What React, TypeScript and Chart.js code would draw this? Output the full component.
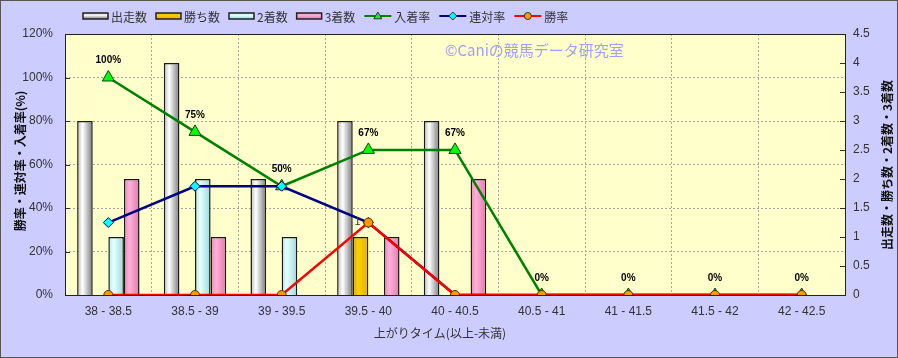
import React, { useEffect, useRef } from 'react';
import { Chart, registerables } from 'chart.js';

Chart.register(...registerables);

const categories = ['38 - 38.5', '38.5 - 39', '39 - 39.5', '39.5 - 40', '40 - 40.5', '40.5 - 41', '41 - 41.5', '41.5 - 42', '42 - 42.5'];
const starts = [3, 4, 2, 3, 3, 0, 0, 0, 0];
const wins = [0, 0, 0, 1, 0, 0, 0, 0, 0];
const seconds = [1, 2, 1, 0, 0, 0, 0, 0, 0];
const thirds = [2, 1, 0, 1, 2, 0, 0, 0, 0];
const placeRate = [100, 75, 50, 66.7, 66.7, 0, 0, 0, 0];
const quinellaRate = [33.3, 50, 50, 33.3, 0, 0, 0, 0, 0];
const winRate = [0, 0, 0, 33.3, 0, 0, 0, 0, 0];

const W = 898;
const H = 358;
const CAT_PCT = 0.72;
const FONT = '"Liberation Sans", "Noto Sans CJK JP", sans-serif';
const JFONT = '"Noto Sans CJK JP", "Liberation Sans", sans-serif';

type Stops = [number, string][];
const STARTS_FILL: Stops = [[0, '#B8B8B8'], [0.35, '#FFFFFF'], [1, '#7A7A7A']];
const WINS_FILL: Stops = [[0, '#D9A600'], [0.35, '#FFD000'], [1, '#E0B000']];
const SECONDS_FILL: Stops = [[0, '#B0EAEA'], [0.35, '#E6FFFF'], [1, '#9AD8D8']];
const THIRDS_FILL: Stops = [[0, '#E486B8'], [0.35, '#FFB0D8'], [1, '#E07AAE']];

function barFill(stops: Stops, groupIdx: number) {
  return (ctx: any) => {
    const chart = ctx.chart;
    const xs = chart.scales && chart.scales.x;
    if (!xs || ctx.type !== 'data' || !xs.width) return stops[1][1];
    const center = xs.getPixelForValue(ctx.dataIndex);
    const catW = xs.width / categories.length;
    const bw = (catW * CAT_PCT) / 4;
    const left = center - 2 * bw + groupIdx * bw;
    const g = chart.ctx.createLinearGradient(left, 0, left + bw, 0);
    stops.forEach(([o, c]) => g.addColorStop(o, c));
    return g;
  };
}

const decorPlugin = {
  id: 'decor',
  beforeDraw(chart: any) {
    const { ctx, chartArea: a } = chart;
    ctx.save();
    ctx.fillStyle = '#CCCCFF';
    ctx.fillRect(0, 0, W, H);
    ctx.fillStyle = '#FFFFCC';
    ctx.fillRect(a.left, a.top, a.right - a.left, a.bottom - a.top);
    ctx.fillStyle = '#A0A0F4';
    ctx.font = '15px ' + JFONT;
    ctx.textAlign = 'left';
    ctx.textBaseline = 'middle';
    ctx.fillText('©Caniの競馬データ研究室', 445, 50);
    ctx.restore();
  },
  afterDatasetsDraw(chart: any) {
    const { ctx } = chart;
    ctx.save();
    const pm = chart.getDatasetMeta(4);
    ctx.fillStyle = '#000';
    ctx.font = 'bold 10px ' + FONT;
    ctx.textAlign = 'center';
    ctx.textBaseline = 'middle';
    pm.data.forEach((el: any, i: number) => {
      ctx.fillText(Math.round(placeRate[i]) + '%', el.x, el.y - 17);
    });
    const wm = chart.getDatasetMeta(1);
    ctx.font = '11px ' + FONT;
    ctx.fillStyle = '#333';
    wm.data.forEach((el: any, i: number) => {
      if (wins[i] > 0) ctx.fillText(String(wins[i]), el.x - 3, el.y - 15);
    });
    ctx.restore();
  },
  afterDraw(chart: any) {
    const { ctx, chartArea: a } = chart;
    ctx.save();
    ctx.strokeStyle = '#333';
    ctx.lineWidth = 1;
    const ys = chart.scales.y;
    ys.ticks.forEach((t: any) => {
      const py = Math.round(ys.getPixelForValue(t.value)) + 0.5;
      ctx.beginPath();
      ctx.moveTo(a.left, py);
      ctx.lineTo(a.left + 5, py);
      ctx.stroke();
    });
    const y1 = chart.scales.y1;
    y1.ticks.forEach((t: any) => {
      const py = Math.round(y1.getPixelForValue(t.value)) + 0.5;
      ctx.beginPath();
      ctx.moveTo(a.right - 5, py);
      ctx.lineTo(a.right, py);
      ctx.stroke();
    });
    ctx.strokeStyle = '#222';
    ctx.lineWidth = 1;
    ctx.strokeRect(Math.round(a.left) + 0.5, Math.round(a.top) + 0.5, Math.round(a.right - a.left), Math.round(a.bottom - a.top));
    ctx.strokeStyle = '#555';
    ctx.lineWidth = 2;
    ctx.strokeRect(0, 0, W, H);

    ctx.fillStyle = '#111';
    ctx.font = 'bold 12px ' + JFONT;
    ctx.textAlign = 'center';
    ctx.textBaseline = 'middle';
    ctx.save();
    ctx.translate(20, 161);
    ctx.rotate(-Math.PI / 2);
    ctx.fillText('勝率・連対率・入着率(%)', 0, 0);
    ctx.restore();
    ctx.save();
    ctx.translate(887, 165);
    ctx.rotate(-Math.PI / 2);
    ctx.fillText('出走数・勝ち数・2着数・3着数', 0, 0);
    ctx.restore();
    ctx.fillStyle = '#333';
    ctx.font = '12px ' + JFONT;
    ctx.fillText('上がりタイム(以上-未満)', 440, 333);

    const items: any[] = [
      { label: '出走数', type: 'bar', stops: STARTS_FILL },
      { label: '勝ち数', type: 'bar', stops: WINS_FILL },
      { label: '2着数', type: 'bar', stops: SECONDS_FILL },
      { label: '3着数', type: 'bar', stops: THIRDS_FILL },
      { label: '入着率', type: 'line', color: '#008000', style: 'triangle', fill: '#00FF00', r: 4 },
      { label: '連対率', type: 'line', color: '#000080', style: 'rectRot', fill: '#00FFFF', r: 4 },
      { label: '勝率', type: 'line', color: '#FF0000', style: 'circle', fill: '#FF9900', r: 3.5 },
    ];
    let x = 83;
    const ly = 16;
    ctx.font = '12px ' + JFONT;
    ctx.textAlign = 'left';
    items.forEach((it) => {
      if (it.type === 'bar') {
        const g = ctx.createLinearGradient(0, ly - 3, 0, ly + 3);
        it.stops.forEach(([o, c]: [number, string]) => g.addColorStop(o, c));
        ctx.fillStyle = g;
        ctx.fillRect(x, ly - 3, 25, 6);
        ctx.strokeStyle = '#222';
        ctx.lineWidth = 1.5;
        ctx.strokeRect(x, ly - 3, 25, 6);
      } else {
        ctx.strokeStyle = it.color;
        ctx.lineWidth = 2;
        ctx.beginPath();
        ctx.moveTo(x, ly);
        ctx.lineTo(x + 27, ly);
        ctx.stroke();
        ctx.fillStyle = it.fill;
        ctx.strokeStyle = '#333';
        ctx.lineWidth = 1;
        ctx.beginPath();
        const cx = x + 13.5;
        if (it.style === 'triangle') {
          ctx.moveTo(cx, ly - it.r);
          ctx.lineTo(cx + it.r, ly + it.r * 0.7);
          ctx.lineTo(cx - it.r, ly + it.r * 0.7);
          ctx.closePath();
        } else if (it.style === 'rectRot') {
          ctx.moveTo(cx, ly - it.r);
          ctx.lineTo(cx + it.r, ly);
          ctx.lineTo(cx, ly + it.r);
          ctx.lineTo(cx - it.r, ly);
          ctx.closePath();
        } else {
          ctx.arc(cx, ly, it.r, 0, Math.PI * 2);
        }
        ctx.fill();
        ctx.stroke();
      }
      const bw = it.type === 'bar' ? 25 : 27;
      ctx.fillStyle = '#333';
      ctx.textBaseline = 'middle';
      ctx.fillText(it.label, x + bw + 3, ly + 1);
      x += bw + 3 + ctx.measureText(it.label).width + 9;
    });
    ctx.restore();
  },
};

export default function App() {
  const ref = useRef<HTMLCanvasElement | null>(null);
  useEffect(() => {
    document.body.style.margin = '0';
    const canvas = ref.current;
    if (!canvas) return;
    const barCommon = {
      type: 'bar' as const,
      yAxisID: 'y1',
      borderColor: '#1a1a1a',
      borderWidth: 1.5,
      borderSkipped: 'bottom' as const,
      categoryPercentage: CAT_PCT,
      barPercentage: 1,
      order: 10,
    };
    const chart = new Chart(canvas, {
      data: {
        labels: categories,
        datasets: [
          { ...barCommon, label: '出走数', data: starts, backgroundColor: barFill(STARTS_FILL, 0) },
          { ...barCommon, label: '勝ち数', data: wins, backgroundColor: barFill(WINS_FILL, 1) },
          { ...barCommon, label: '2着数', data: seconds, backgroundColor: barFill(SECONDS_FILL, 2) },
          { ...barCommon, label: '3着数', data: thirds, backgroundColor: barFill(THIRDS_FILL, 3) },
          {
            type: 'line', label: '入着率', data: placeRate, yAxisID: 'y', order: 3,
            borderColor: '#008000', borderWidth: 2.5, pointStyle: 'triangle', pointRadius: 7,
            pointBackgroundColor: '#00FF00', pointBorderColor: '#1a3a1a', pointBorderWidth: 1, tension: 0,
          },
          {
            type: 'line', label: '連対率', data: quinellaRate, yAxisID: 'y', order: 2,
            borderColor: '#000080', borderWidth: 2.5, pointStyle: 'rectRot', pointRadius: 5,
            pointBackgroundColor: '#00FFFF', pointBorderColor: '#000060', pointBorderWidth: 1, tension: 0,
          },
          {
            type: 'line', label: '勝率', data: winRate, yAxisID: 'y', order: 1,
            borderColor: '#FF0000', borderWidth: 2.5, pointStyle: 'circle', pointRadius: 4.5,
            pointBackgroundColor: '#FF9900', pointBorderColor: '#5a3000', pointBorderWidth: 1, tension: 0,
          },
        ] as any,
      },
      options: {
        animation: false,
        responsive: false,
        devicePixelRatio: 1,
        layout: { padding: { top: 34, left: 0, right: 0, bottom: 0 } },
        plugins: { legend: { display: false }, tooltip: { enabled: false } },
        scales: {
          x: {
            offset: true,
            grid: { display: true, offset: true, color: '#A8A8A0', drawTicks: false },
            border: { display: false, dash: [2, 2] },
            ticks: { font: { size: 12, family: FONT }, color: '#333', padding: 9, maxRotation: 0, autoSkip: false },
            afterFit: (s: any) => { s.height = 63; },
          },
          y: {
            position: 'left',
            min: 0,
            max: 120,
            ticks: { stepSize: 20, callback: (v: any) => v + '%', font: { size: 12, family: FONT }, color: '#333', padding: 12 },
            grid: { color: '#A8A8A0', drawTicks: false },
            border: { display: false, dash: [2, 2] },
            afterFit: (s: any) => { s.width = 65; },
          },
          y1: {
            position: 'right',
            min: 0,
            max: 4.5,
            ticks: { stepSize: 0.5, callback: (v: any) => String(Number(v)), font: { size: 12, family: FONT }, color: '#333', padding: 8 },
            grid: { display: false, drawTicks: false },
            border: { display: false },
            afterFit: (s: any) => { s.width = 53; },
          },
        },
      },
      plugins: [decorPlugin],
    } as any);
    return () => chart.destroy();
  }, []);
  return (
    <div style={{ width: W, height: H }}>
      <canvas ref={ref} width={W} height={H} style={{ display: 'block', width: W, height: H }} />
    </div>
  );
}
